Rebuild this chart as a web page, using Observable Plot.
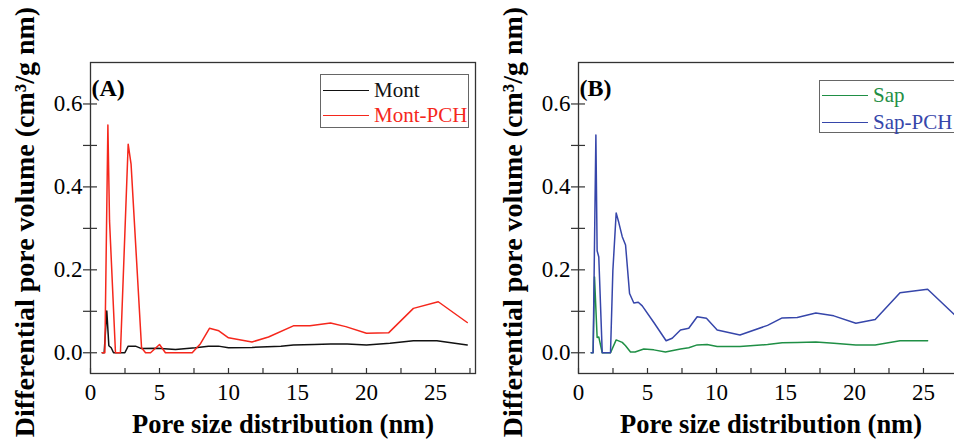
<!DOCTYPE html>
<html>
<head>
<meta charset="utf-8">
<script src="https://cdn.jsdelivr.net/npm/d3@7"></script>
<script src="https://cdn.jsdelivr.net/npm/@observablehq/plot@0.6"></script>
<style>
  html, body { margin: 0; padding: 0; background: #fff; }
  #wrap { position: relative; width: 954px; height: 442px; overflow: hidden; background: #fff; font-family: "Liberation Serif", "Times New Roman", serif; }
  .panel { position: absolute; top: 0; width: 490px; height: 442px; }
  .panel svg { max-width: none !important; display: block; }
  .legend { position: absolute; border: 1px solid #666; background: #fff; box-sizing: border-box; }
  .row { position: absolute; left: 0; height: 24px; display: flex; align-items: center; font-size: 21px; white-space: nowrap; }
  .row .ln { display: inline-block; width: 46px; height: 0; border-top: 1.5px solid; margin: 0 5px 0 2px; }
</style>
</head>
<body>
<div id="wrap"></div>
<script>
// ---- data ----
const montX = [0.85, 0.99, 1.18, 1.33, 1.5, 1.67, 2.49, 2.73, 3.26, 3.7, 4.83, 6.16, 7.6, 8.55, 9.27, 10.0, 11.7, 13.8, 14.7, 16.2, 17.4, 18.6, 20.0, 21.7, 23.4, 25.1, 27.3];
const montY = [0, 0, 0.101, 0.017, 0.012, 0, 0, 0.016, 0.016, 0.010, 0.011, 0.008, 0.012, 0.016, 0.016, 0.012, 0.013, 0.016, 0.019, 0.020, 0.021, 0.021, 0.019, 0.023, 0.029, 0.029, 0.019];

const montPchX = [0.85, 1.04, 1.26, 1.38, 1.81, 2.17, 2.73, 2.94, 3.7, 3.99, 4.35, 5.0, 5.43, 7.37, 7.97, 8.62, 9.3, 10.0, 11.7, 12.9, 14.7, 15.9, 17.4, 18.5, 20.0, 21.6, 23.4, 25.2, 27.3];
const montPchY = [0, 0, 0.549, 0.318, 0, 0, 0.503, 0.455, 0.012, 0, 0, 0.020, 0, 0, 0.022, 0.059, 0.053, 0.036, 0.026, 0.038, 0.065, 0.065, 0.072, 0.063, 0.047, 0.048, 0.107, 0.123, 0.073];

const sapX = [0.92, 1.06, 1.16, 1.35, 1.47, 1.72, 2.32, 2.73, 3.17, 3.41, 3.77, 4.1, 4.73, 5.46, 6.3, 7.39, 7.99, 8.6, 9.32, 10.05, 11.7, 13.7, 14.76, 15.85, 17.2, 18.5, 20.1, 21.5, 23.3, 25.3];
const sapY = [0, 0, 0.183, 0.037, 0.038, 0, 0, 0.031, 0.025, 0.017, 0.002, 0.002, 0.009, 0.007, 0.002, 0.009, 0.012, 0.019, 0.020, 0.015, 0.015, 0.020, 0.024, 0.025, 0.026, 0.023, 0.019, 0.019, 0.029, 0.029];

const sapPchX = [0.92, 1.06, 1.26, 1.35, 1.47, 1.72, 2.32, 2.49, 2.73, 2.92, 3.17, 3.41, 3.7, 4.01, 4.33, 4.62, 5.46, 6.35, 6.79, 7.39, 7.99, 8.6, 9.27, 10.05, 11.7, 13.7, 14.76, 15.85, 17.2, 18.5, 20.1, 21.5, 23.3, 25.3, 27.3];
const sapPchY = [0, 0, 0.525, 0.246, 0.231, 0, 0, 0.198, 0.337, 0.314, 0.280, 0.260, 0.143, 0.120, 0.122, 0.113, 0.073, 0.029, 0.035, 0.055, 0.059, 0.087, 0.083, 0.055, 0.043, 0.066, 0.084, 0.085, 0.096, 0.089, 0.071, 0.080, 0.145, 0.153, 0.090];

const xTicks = [0, 5, 10, 15, 20, 25];
const xMinor = [2.5, 7.5, 12.5, 17.5, 22.5, 27.5];
const yTicks = [0.0, 0.2, 0.4, 0.6];
const yMinor = [0.1, 0.3, 0.5];

const yTitle = "Differential pore volume (cm³/g nm)";
const xTitle = "Pore size distribution (nm)";

const panels = [
  { tag: "(A)", left: 0, series: [
      { name: "Mont", xs: montX, ys: montY, color: "#111111" },
      { name: "Mont-PCH", xs: montPchX, ys: montPchY, color: "#f5271c" } ],
    legend: { left: 320, top: 74, width: 149, height: 54, rows: [3, 28] } },
  { tag: "(B)", left: 488, series: [
      { name: "Sap", xs: sapX, ys: sapY, color: "#1f8f45" },
      { name: "Sap-PCH", xs: sapPchX, ys: sapPchY, color: "#3646aa" } ],
    legend: { left: 819, top: 80, width: 150, height: 53, rows: [2, 29] } }
];

const wrap = document.getElementById("wrap");

for (const p of panels) {
  const lines = p.series.map(s =>
    Plot.line(s.xs.map((x, i) => ({ x, y: s.ys[i] })), { x: "x", y: "y", stroke: s.color, strokeWidth: 1.5 })
  );
  const chart = Plot.plot({
    width: 490, height: 442,
    marginLeft: 90, marginRight: 15, marginTop: 62, marginBottom: 69,
    x: { domain: [0, 27.9] },
    y: { domain: [-0.05, 0.7] },
    style: { fontFamily: "'Liberation Serif', 'Times New Roman', serif", fontSize: "23px", color: "#000", background: "transparent", overflow: "visible", maxWidth: "none" },
    marks: [
      ...lines,
      Plot.frame({ stroke: "#333", strokeWidth: 1.3 }),
      Plot.axisY([...yTicks, ...yMinor], { tickSize: 14, dx: 7, tickFormat: () => "", label: null, stroke: "#333", strokeWidth: 1.2 }),
      Plot.axisY(yTicks, { tickSize: 0, tickPadding: 8, tickFormat: d => d.toFixed(1), label: null, fill: "#000" }),
      Plot.axisX([...xTicks, ...xMinor], { tickSize: 5, dy: -5, tickFormat: () => "", label: null, stroke: "#333", strokeWidth: 1.2 }),
      Plot.axisX(xTicks, { tickSize: 0, tickPadding: 10, tickFormat: d => String(d), label: null, fill: "#000" }),
      Plot.text([p.tag], { frameAnchor: "top-left", dx: 1, dy: 16, fontWeight: "bold", fontSize: 24, fill: "#000" }),
      Plot.text([yTitle], { frameAnchor: "left", textAnchor: "middle", rotate: -90, dx: -65, dy: 4, fontWeight: "bold", fontSize: 28, fill: "#000" }),
      Plot.text([xTitle], { frameAnchor: "bottom", textAnchor: "middle", dy: 59, fontWeight: "bold", fontSize: 26.5, fill: "#000" })
    ]
  });
  const holder = document.createElement("div");
  holder.className = "panel";
  holder.style.left = p.left + "px";
  holder.appendChild(chart);
  wrap.appendChild(holder);

  const lg = document.createElement("div");
  lg.className = "legend";
  Object.assign(lg.style, { left: p.legend.left + "px", top: p.legend.top + "px", width: p.legend.width + "px", height: p.legend.height + "px" });
  p.series.forEach((s, i) => {
    const row = document.createElement("div");
    row.className = "row";
    row.style.top = p.legend.rows[i] + "px";
    row.style.color = s.color;
    const ln = document.createElement("span");
    ln.className = "ln";
    ln.style.borderTopColor = s.color;
    row.appendChild(ln);
    row.appendChild(document.createTextNode(s.name));
    lg.appendChild(row);
  });
  wrap.appendChild(lg);
}
</script>
</body>
</html>
